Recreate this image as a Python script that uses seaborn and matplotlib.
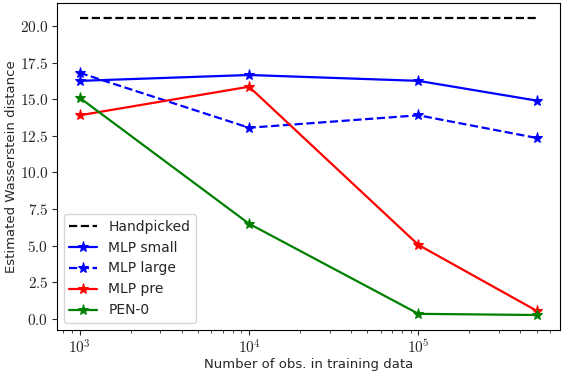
import math
import matplotlib
matplotlib.use("Agg")
import matplotlib.pyplot as plt
import seaborn as sns
import pandas as pd
from matplotlib.ticker import FuncFormatter, LogLocator

n_obs = [1e3, 1e4, 1e5, 5e5]
handpicked = [20.55, 20.55, 20.55, 20.55]
mlp_small = [16.25, 16.65, 16.25, 14.9]
mlp_large = [16.8, 13.05, 13.9, 12.35]
mlp_pre = [13.9, 15.85, 5.05, 0.55]
pen0 = [15.1, 6.5, 0.35, 0.27]

series = [
    ("Handpicked", handpicked, "black", "--", None),
    ("MLP small", mlp_small, "blue", "-", "*"),
    ("MLP large", mlp_large, "blue", "--", "*"),
    ("MLP pre", mlp_pre, "red", "-", "*"),
    ("PEN-0", pen0, "green", "-", "*"),
]

sns.set_style("ticks")
plt.rcParams["font.family"] = ["DejaVu Sans"]
plt.rcParams["mathtext.fontset"] = "cm"

fig, ax = plt.subplots(figsize=(5.62, 3.74), dpi=100)
fig.subplots_adjust(left=0.101, right=0.996, bottom=0.118, top=0.992)
for name, vals, col, ls, mk in series:
    df = pd.DataFrame({"x": n_obs, "y": vals})
    sns.lineplot(data=df, x="x", y="y", ax=ax, color=col, linestyle=ls,
                 marker=mk, markersize=8, markeredgecolor=col, linewidth=1.6,
                 label=name)

ax.set_xscale("log")
ax.set_yticks([0, 2.5, 5, 7.5, 10, 12.5, 15, 17.5, 20])
ax.yaxis.set_major_formatter(FuncFormatter(lambda v, p: r"$%.1f$" % v))
ax.xaxis.set_major_locator(LogLocator(base=10))
ax.xaxis.set_major_formatter(FuncFormatter(lambda v, p: r"$10^{%d}$" % round(math.log10(v))))
ax.set_xlabel("Number of obs. in training data", fontsize=9.5, labelpad=1)
ax.set_ylabel("Estimated Wasserstein distance", fontsize=9.5, labelpad=1)
ax.tick_params(labelsize=11, pad=2.5)
for s in ax.spines.values():
    s.set_visible(True)
    s.set_color("black")
leg = ax.legend(loc="lower left", fontsize=10, frameon=True)
fig.savefig("out.png", dpi=100)
